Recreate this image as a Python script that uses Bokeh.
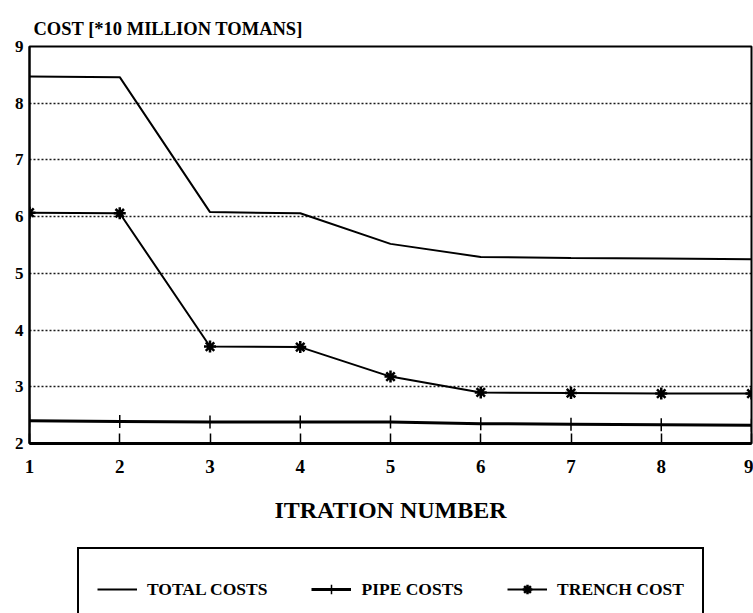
from bokeh.plotting import figure
from bokeh.models import Legend, LegendItem, FixedTicker, Range1d
from bokeh.layouts import column
from bokeh.embed import file_html
from bokeh.resources import INLINE

iterations = [1, 2, 3, 4, 5, 6, 7, 8, 9]
total_costs = [8.47, 8.46, 6.08, 6.06, 5.52, 5.29, 5.27, 5.26, 5.25]
pipe_costs = [2.40, 2.39, 2.38, 2.38, 2.38, 2.35, 2.34, 2.33, 2.32]
trench_cost = [6.07, 6.06, 3.71, 3.70, 3.18, 2.90, 2.89, 2.88, 2.88]
x_ticks = [1, 2, 3, 4, 5, 6, 7, 8, 9]
y_ticks = [2, 3, 4, 5, 6, 7, 8, 9]

FONT = "Liberation Serif"


def draw_series(fig):
    r_total = fig.line(iterations, total_costs, line_color="black", line_width=2)
    r_pipe = fig.line(iterations, pipe_costs, line_color="black", line_width=3)
    r_pipe_m = fig.scatter(iterations, pipe_costs, marker="cross", size=13,
                           line_color="black", line_width=1.5)
    r_trench = fig.line(iterations, trench_cost, line_color="black", line_width=2)
    r_trench_m = fig.scatter(iterations, trench_cost, marker="asterisk", size=12,
                             line_color="black", line_width=2.5)
    return r_total, (r_pipe, r_pipe_m), (r_trench, r_trench_m)


p = figure(width=753, height=540, output_backend="svg", toolbar_location=None,
           x_range=Range1d(1, 9), y_range=Range1d(2, 9),
           min_border_left=29, min_border_right=2, min_border_top=46,
           min_border_bottom=97)

p.title.text = "COST [*10 MILLION TOMANS]"
p.title.align = "left"
p.title.offset = 4
p.title.text_font = FONT
p.title.text_font_size = "18.5px"
p.title.text_font_style = "bold"
p.title.text_color = "black"
p.title.standoff = 16

p.outline_line_color = "black"
p.outline_line_width = 2

p.xaxis.ticker = FixedTicker(ticks=x_ticks)
p.yaxis.ticker = FixedTicker(ticks=y_ticks)
p.xaxis.axis_label = "ITRATION NUMBER"
p.xaxis.axis_label_text_font = FONT
p.xaxis.axis_label_text_font_size = "24px"
p.xaxis.axis_label_text_font_style = "bold"
p.xaxis.axis_label_text_color = "black"
p.xaxis.axis_label_standoff = 21
p.xaxis.axis_line_width = 3
p.xaxis.axis_line_color = "black"
p.xaxis.major_tick_in = 10
p.xaxis.major_tick_out = 0
p.xaxis.major_tick_line_width = 1.5
p.xaxis.major_tick_line_color = "black"
p.xaxis.minor_tick_line_color = None
p.xaxis.major_label_standoff = 16
p.xaxis.major_label_text_font = FONT
p.xaxis.major_label_text_font_size = "19px"
p.xaxis.major_label_text_font_style = "bold"
p.xaxis.major_label_text_color = "black"

p.yaxis.axis_line_width = 2
p.yaxis.axis_line_color = "black"
p.yaxis.major_tick_in = 0
p.yaxis.major_tick_out = 0
p.yaxis.minor_tick_line_color = None
p.yaxis.major_label_standoff = 6
p.yaxis.major_label_text_font = FONT
p.yaxis.major_label_text_font_size = "17px"
p.yaxis.major_label_text_font_style = "bold"
p.yaxis.major_label_text_color = "black"

p.xgrid.grid_line_color = None
p.ygrid.grid_line_color = "black"
p.ygrid.grid_line_alpha = 0.9
p.ygrid.grid_line_width = 1.5
p.ygrid.grid_line_dash = "2 2"

draw_series(p)

# legend strip: same series drawn off-view, legend box runs past the bottom
q = figure(width=753, height=73, output_backend="svg", toolbar_location=None,
           x_range=Range1d(100, 101), y_range=Range1d(100, 101),
           x_axis_location=None, y_axis_location=None,
           min_border_left=0, min_border_right=0, min_border_top=0,
           min_border_bottom=0)
q.grid.grid_line_color = None
q.outline_line_color = None
lt, lp, ltr = draw_series(q)

legend = Legend(items=[
    LegendItem(label="TOTAL COSTS", renderers=[lt]),
    LegendItem(label="PIPE COSTS", renderers=list(lp)),
    LegendItem(label="TRENCH COST", renderers=list(ltr)),
], orientation="horizontal", location=(48, -18))
legend.label_text_font = FONT
legend.label_text_font_size = "17.5px"
legend.label_text_font_style = "bold"
legend.label_text_color = "black"
legend.glyph_width = 40
legend.glyph_height = 24
legend.label_height = 44
legend.label_standoff = 10
legend.spacing = 44
legend.padding = 18
legend.margin = 0
legend.border_line_color = "black"
legend.border_line_alpha = 1
legend.border_line_width = 2
legend.background_fill_alpha = 0
q.add_layout(legend, "center")

open("out.html", "w").write(file_html(column(p, q, spacing=0), INLINE))
